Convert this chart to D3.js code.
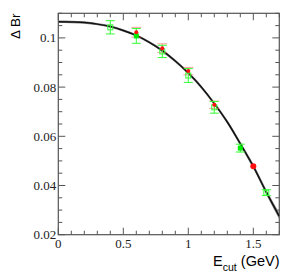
<!DOCTYPE html>
<html>
<head>
<meta charset="utf-8">
<script src="https://cdn.jsdelivr.net/npm/d3@7"></script>
<style>
body { margin: 0; background: #fff; }
svg { display: block; }
</style>
</head>
<body>
<svg width="294" height="280"></svg>
<script>
// fit curve
var curveX = [0, 0.1, 0.2, 0.3, 0.4, 0.5, 0.6, 0.7, 0.8, 0.9, 1.0, 1.1, 1.2, 1.3, 1.4, 1.5, 1.6, 1.7];
var curveY = [0.1066, 0.1065, 0.1063, 0.1056, 0.1046, 0.1030, 0.1010, 0.0982, 0.0948, 0.0906, 0.0857, 0.0800, 0.0733, 0.0658, 0.0570, 0.0478, 0.0373, 0.0275];
var curveErr = [0.0005, 0.0005, 0.0005, 0.0005, 0.0005, 0.0005, 0.0005, 0.0005, 0.0006, 0.0006, 0.0006, 0.0007, 0.0007, 0.0008, 0.0009, 0.0010, 0.0011, 0.0013];

// green points
var greenX = [0.4, 0.6, 0.8, 1.0, 1.2, 1.4, 1.6];
var greenY = [0.1043, 0.1008, 0.0945, 0.0847, 0.0718, 0.0552, 0.0371];
var greenErr = [0.0027, 0.0030, 0.0025, 0.0028, 0.0024, 0.0016, 0.0012];
var greenFilled = [false, true, false, false, false, true, false];

// red points
var redX = [0.6, 0.8, 1.0, 1.2, 1.5];
var redY = [0.1023, 0.0958, 0.0865, 0.0728, 0.0478];
var redErr = [0.0020, 0.0018, 0.0015, 0.0015, 0];

var xTicks = [0, 0.5, 1, 1.5];
var yTicks = [0.02, 0.04, 0.06, 0.08, 0.1];

var svg = d3.select("svg");
var margin = {top: 13.3, right: 14.7, bottom: 45.3, left: 58.3};
var width = 294 - margin.left - margin.right;
var height = 280 - margin.top - margin.bottom;
var g = svg.append("g").attr("transform", "translate(" + margin.left + "," + margin.top + ")");

var x = d3.scaleLinear().domain([0, 1.7]).range([0, width]);
var y = d3.scaleLinear().domain([0.02, 0.11]).range([height, 0]);

var axisCol = "#555";
var serif = "'Liberation Serif', 'DejaVu Serif', serif";
var sans = "'Liberation Sans', Arial, sans-serif";

// ticks on all four sides, ROOT style
var xMinor = d3.range(0, 1.7001, 0.1);
var yMinor = d3.range(0.02, 0.11001, 0.005);
function isMajor(v, list) { return list.some(function(t) { return Math.abs(t - v) < 1e-6; }); }

var ticks = g.append("g").attr("stroke", axisCol).attr("stroke-width", 1);
xMinor.forEach(function(v) {
  var len = isMajor(v, xTicks) ? 7 : 4;
  ticks.append("line").attr("x1", x(v)).attr("x2", x(v)).attr("y1", height).attr("y2", height - len);
  ticks.append("line").attr("x1", x(v)).attr("x2", x(v)).attr("y1", 0).attr("y2", len);
});
yMinor.forEach(function(v) {
  var len = isMajor(v, yTicks) ? 7 : 4;
  ticks.append("line").attr("y1", y(v)).attr("y2", y(v)).attr("x1", 0).attr("x2", len);
  ticks.append("line").attr("y1", y(v)).attr("y2", y(v)).attr("x1", width).attr("x2", width - len);
});

g.append("rect").attr("width", width).attr("height", height)
  .attr("fill", "none").attr("stroke", axisCol).attr("stroke-width", 1.2);

// tick labels
g.selectAll(".xl").data(xTicks).enter().append("text")
  .attr("x", function(d) { return x(d); }).attr("y", height + 13)
  .attr("text-anchor", "middle").attr("font-family", serif).attr("font-size", 13)
  .attr("fill", "#222").text(function(d) { return d; });
g.selectAll(".yl").data(yTicks).enter().append("text")
  .attr("x", -2).attr("y", function(d) { return y(d) + 4.5; })
  .attr("text-anchor", "end").attr("font-family", serif).attr("font-size", 13)
  .attr("fill", "#222").text(function(d) { return d; });

// axis titles
svg.append("text")
  .attr("transform", "translate(19.5,13.5) rotate(-90)")
  .attr("text-anchor", "end").attr("font-family", sans).attr("font-size", 13.5)
  .text("\u0394 Br");
var xt = svg.append("text").attr("x", 279.5).attr("y", 265.5)
  .attr("text-anchor", "end").attr("font-family", sans).attr("font-size", 14.5);
xt.append("tspan").text("E");
xt.append("tspan").attr("dy", 5).attr("font-size", 10.5).text("cut");
xt.append("tspan").attr("dy", -5).text(" (GeV)");

var clip = g.append("clipPath").attr("id", "clip").append("rect").attr("width", width).attr("height", height);
var plot = g.append("g").attr("clip-path", "url(#clip)");

var curveData = curveX.map(function(v, i) { return {x: v, y: curveY[i], e: curveErr[i]}; });

plot.append("path").datum(curveData)
  .attr("fill", "#8a8a8a")
  .attr("d", d3.area().curve(d3.curveMonotoneX)
    .x(function(d) { return x(d.x); })
    .y0(function(d) { return y(d.y - d.e); })
    .y1(function(d) { return y(d.y + d.e); }));
plot.append("path").datum(curveData)
  .attr("fill", "none").attr("stroke", "#111").attr("stroke-width", 1.5)
  .attr("d", d3.line().curve(d3.curveMonotoneX)
    .x(function(d) { return x(d.x); })
    .y(function(d) { return y(d.y); }));

function errBars(xs, ys, es, col, cap, op) {
  var eg = plot.append("g").attr("stroke", col).attr("stroke-width", 1).attr("opacity", op);
  xs.forEach(function(v, i) {
    if (!es[i]) return;
    var cx = x(v), y0 = y(ys[i] - es[i]), y1 = y(ys[i] + es[i]);
    eg.append("line").attr("x1", cx).attr("x2", cx).attr("y1", y0).attr("y2", y1);
    eg.append("line").attr("x1", cx - cap).attr("x2", cx + cap).attr("y1", y0).attr("y2", y0);
    eg.append("line").attr("x1", cx - cap).attr("x2", cx + cap).attr("y1", y1).attr("y2", y1);
  });
}

errBars(redX, redY, redErr, "#ff5050", 5, 0.55);
errBars(greenX, greenY, greenErr, "#33ff33", 4.5, 1);

plot.selectAll(".gm").data(greenX).enter().append("rect")
  .attr("x", function(d) { return x(d) - 2.5; })
  .attr("y", function(d, i) { return y(greenY[i]) - 2.5; })
  .attr("width", 5).attr("height", 5)
  .attr("fill", function(d, i) { return greenFilled[i] ? "#00ee00" : "none"; })
  .attr("stroke", function(d, i) { return greenFilled[i] ? "none" : "#33ff33"; })
  .attr("stroke-width", 1);

plot.selectAll(".rm").data(redX).enter().append("circle")
  .attr("cx", function(d) { return x(d); })
  .attr("cy", function(d, i) { return y(redY[i]); })
  .attr("r", function(d, i) { return i === redX.length - 1 ? 3 : 2; })
  .attr("fill", "#ff1010");
</script>
</body>
</html>
